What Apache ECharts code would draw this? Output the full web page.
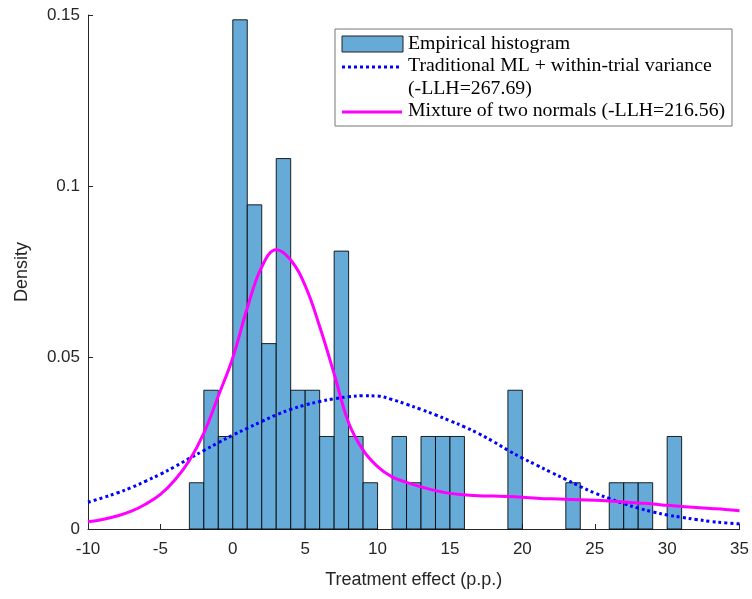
<!DOCTYPE html>
<html>
<head>
<meta charset="utf-8">
<script src="https://cdn.jsdelivr.net/npm/echarts@6/dist/echarts.min.js"></script>
<style>html,body{margin:0;padding:0;background:#fff;}#c{width:752px;height:599px;}</style>
</head>
<body>
<div id="c"></div>
<script>
// ---- data ----
const binLeft = [-3, -2, -1, 0, 1, 2, 3, 4, 5, 6, 7, 8, 9, 11, 12, 13, 14, 15, 19, 23, 26, 27, 28, 30];
const binDensity = [0.0135, 0.0405, 0.027, 0.1486, 0.0946, 0.0541, 0.1081, 0.0405, 0.0405, 0.027, 0.0811, 0.027, 0.0135,
                    0.027, 0.0135, 0.027, 0.027, 0.027, 0.0405, 0.0135, 0.0135, 0.0135, 0.0135, 0.027];
const binWidth = 1;

const curveX = [-10,-9,-8,-7,-6,-5,-4,-3,-2,-1,0,1,2,3,4,5,6,7,8,9,10,11,12,13,14,15,16,17,18,19,20,21,22,23,24,25,26,27,28,29,30,31,32,33,34,35];
const normalY = [0.0078,0.0091,0.0105,0.0121,0.0140,0.0160,0.0182,0.0206,0.0229,0.0252,0.0274,0.0294,0.0314,0.0333,0.0349,0.0362,0.0372,0.0380,0.0386,0.0389,0.0388,0.0378,0.0364,0.0349,0.0333,0.0316,0.0298,0.0278,0.0255,0.0230,0.0207,0.0186,0.0165,0.0145,0.0124,0.0105,0.0089,0.0074,0.0061,0.0050,0.0041,0.0034,0.0028,0.0022,0.0018,0.0015];
const mixtureY = [0.0021,0.0028,0.0038,0.0052,0.0073,0.0101,0.0143,0.0200,0.0280,0.0388,0.0500,0.0645,0.0765,0.0815,0.0785,0.0710,0.0591,0.0453,0.0310,0.0230,0.0182,0.0152,0.0136,0.0123,0.0112,0.0104,0.0100,0.0097,0.0096,0.0095,0.0093,0.0090,0.0088,0.0087,0.0085,0.0084,0.0082,0.0079,0.0076,0.0073,0.0069,0.0066,0.0063,0.0060,0.0057,0.0053];

const seriesNames = ['Empirical histogram', 'Traditional ML + within-trial variance', '(-LLH=267.69)', 'Mixture of two normals (-LLH=216.56)'];
const xTicks = { min: -10, max: 35, interval: 5 };
const yTicks = { min: 0, max: 0.15, interval: 0.05 };
const xLabel = 'Treatment effect (p.p.)';
const yLabel = 'Density';

// ---- chart ----
const chart = echarts.init(document.getElementById('c'), null, { renderer: 'canvas' });
const histData = binLeft.map((l, i) => [l, l + binWidth, binDensity[i]]);
const histFill = '#66AAD7';
const axisColor = '#262626';
const sans = '"Liberation Sans", Arial, sans-serif';
const legendFont = '"Liberation Serif", "DejaVu Serif", serif';

const option = {
  animation: false,
  backgroundColor: '#fff',
  grid: { left: 88, right: 11, top: 15, bottom: 70 },
  xAxis: {
    type: 'value', min: xTicks.min, max: xTicks.max, interval: xTicks.interval,
    name: xLabel, nameLocation: 'middle', nameGap: 42,
    nameTextStyle: { fontFamily: sans, fontSize: 18, color: axisColor },
    axisLine: { onZero: false, lineStyle: { color: axisColor, width: 1 } },
    axisTick: { inside: true, length: 5, lineStyle: { color: axisColor } },
    axisLabel: { fontFamily: sans, fontSize: 17, color: axisColor, margin: 12 },
    splitLine: { show: false }
  },
  yAxis: {
    type: 'value', min: yTicks.min, max: yTicks.max, interval: yTicks.interval,
    name: yLabel, nameLocation: 'middle', nameGap: 57, nameRotate: 90,
    nameTextStyle: { fontFamily: sans, fontSize: 18, color: axisColor },
    axisLine: { show: true, onZero: false, lineStyle: { color: axisColor, width: 1 } },
    axisTick: { show: true, inside: true, length: 5, lineStyle: { color: axisColor } },
    axisLabel: { fontFamily: sans, fontSize: 17, color: axisColor, margin: 8 },
    splitLine: { show: false }
  },
  series: [
    {
      name: seriesNames[0],
      type: 'custom',
      z: 1,
      data: histData,
      encode: { x: [0, 1], y: 2 },
      renderItem: function (params, api) {
        const p0 = api.coord([api.value(0), api.value(2)]);
        const p1 = api.coord([api.value(1), 0]);
        return {
          type: 'rect',
          shape: { x: p0[0], y: p0[1], width: p1[0] - p0[0], height: p1[1] - p0[1] },
          style: { fill: histFill, stroke: 'rgba(0,0,0,0.85)', lineWidth: 1 }
        };
      }
    },
    {
      name: seriesNames[1],
      type: 'line', z: 3, smooth: 0.4, smoothConstraint: false, showSymbol: false, symbol: 'none',
      data: curveX.map((x, i) => [x, normalY[i]]),
      lineStyle: { color: '#0000FF', width: 3, type: [3, 3], cap: 'butt' }
    },
    {
      name: seriesNames[3],
      type: 'line', z: 4, smooth: 0.4, smoothConstraint: false, showSymbol: false, symbol: 'none',
      data: curveX.map((x, i) => [x, mixtureY[i]]),
      lineStyle: { color: '#FF00FF', width: 3 }
    }
  ],
  graphic: [
    { type: 'rect', z: 100, shape: { x: 335, y: 29, width: 397, height: 97 },
      style: { fill: '#fff', stroke: '#777', lineWidth: 1 } },
    { type: 'rect', z: 101, shape: { x: 342, y: 36, width: 61, height: 16 },
      style: { fill: histFill, stroke: '#222', lineWidth: 1 } },
    { type: 'line', z: 101, shape: { x1: 342, y1: 67, x2: 400, y2: 67 },
      style: { stroke: '#0000FF', lineWidth: 3, lineDash: [3, 3] } },
    { type: 'line', z: 101, shape: { x1: 342, y1: 112, x2: 402, y2: 112 },
      style: { stroke: '#FF00FF', lineWidth: 3 } },
    { type: 'text', z: 101, x: 408, y: 44, style: { text: seriesNames[0], font: '19.8px ' + legendFont, fill: '#000', verticalAlign: 'middle' } },
    { type: 'text', z: 101, x: 408, y: 66, style: { text: seriesNames[1], font: '19.8px ' + legendFont, fill: '#000', verticalAlign: 'middle' } },
    { type: 'text', z: 101, x: 408, y: 89, style: { text: seriesNames[2], font: '19.8px ' + legendFont, fill: '#000', verticalAlign: 'middle' } },
    { type: 'text', z: 101, x: 408, y: 111, style: { text: seriesNames[3], font: '19.8px ' + legendFont, fill: '#000', verticalAlign: 'middle' } }
  ]
};
chart.setOption(option);
</script>
</body>
</html>
